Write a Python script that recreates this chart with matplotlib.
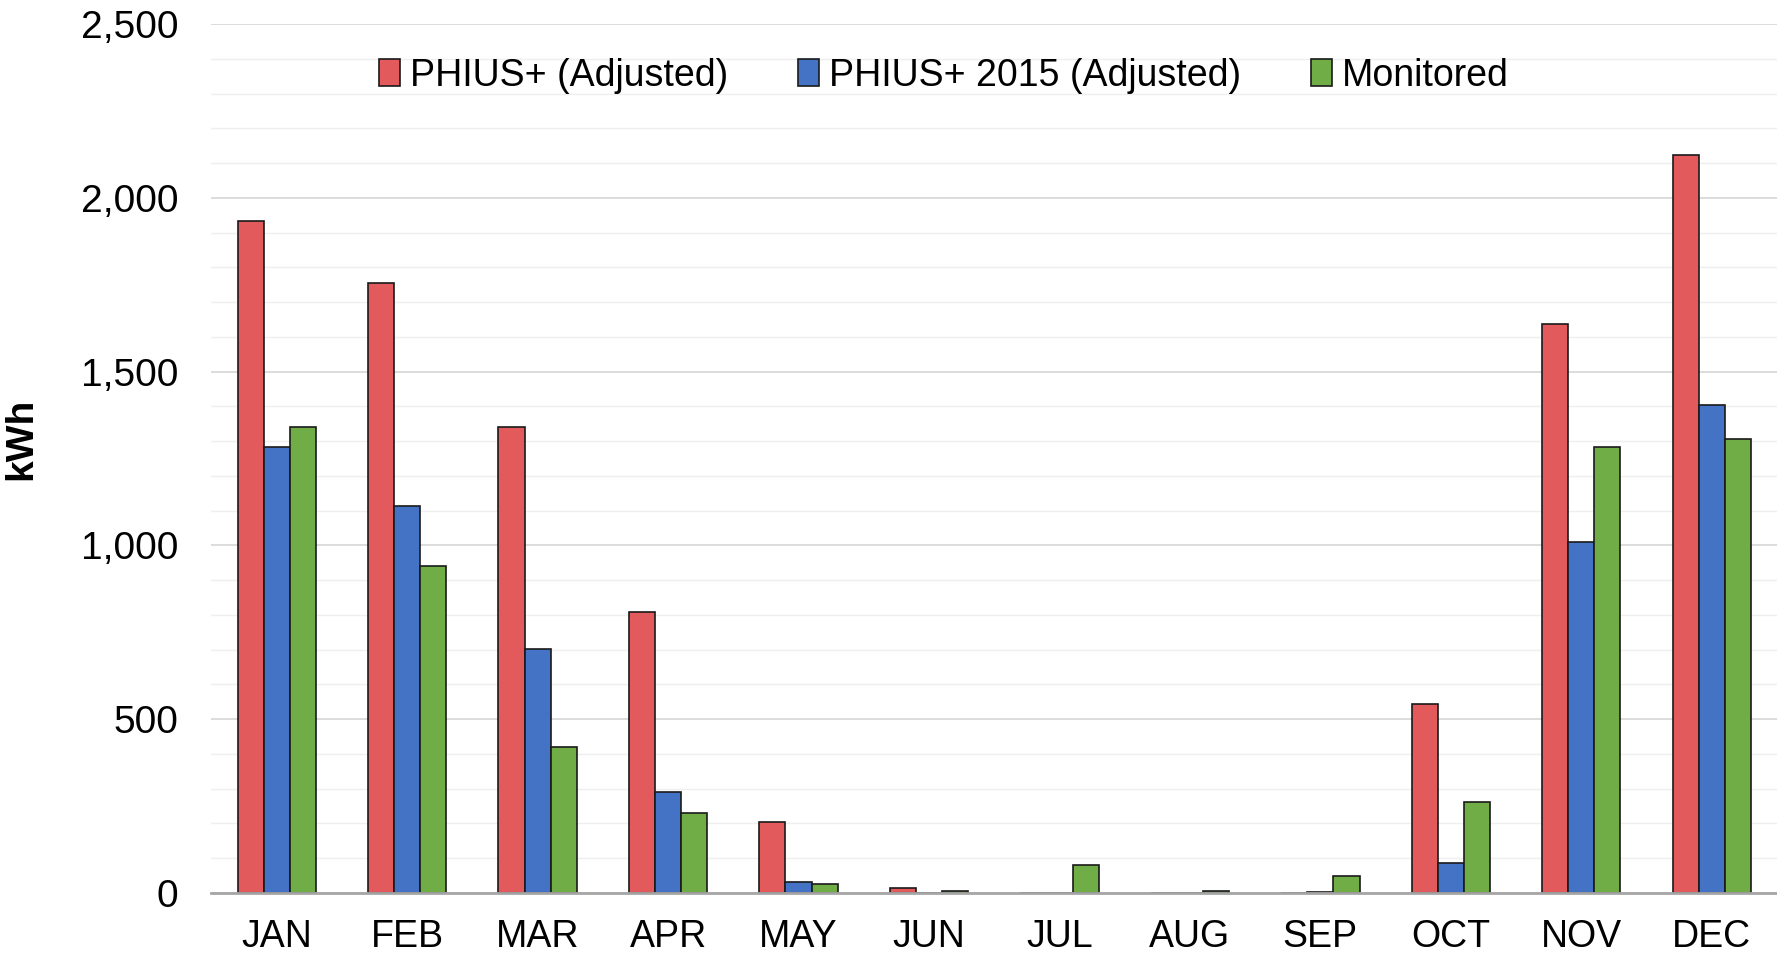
import matplotlib
matplotlib.use("Agg")
import matplotlib.pyplot as plt
import numpy as np
from matplotlib.ticker import FuncFormatter, MultipleLocator

months = ["JAN", "FEB", "MAR", "APR", "MAY", "JUN", "JUL", "AUG", "SEP", "OCT", "NOV", "DEC"]
phius_adj = [1933, 1754, 1340, 808, 205, 13, 0, 0, 0, 544, 1636, 2122]
phius2015_adj = [1284, 1112, 701, 290, 33, 0, 0, 0, 3, 85, 1010, 1405]
monitored = [1340, 942, 420, 231, 26, 6, 81, 6, 49, 261, 1284, 1307]
series_names = ["PHIUS+ (Adjusted)", "PHIUS+ 2015 (Adjusted)", "Monitored"]
colors = ["#E35A5C", "#4472C4", "#70AD47"]

plt.rcParams['font.family'] = ['Liberation Sans', 'DejaVu Sans']

fig = plt.figure(figsize=(17.77, 9.56), dpi=100)
ax = fig.add_axes([0.119, 0.0659, 0.881, 0.909])

x = np.arange(len(months))
w = 0.2
for i, (vals, name, c) in enumerate(zip([phius_adj, phius2015_adj, monitored], series_names, colors)):
    ax.bar(x + (i - 1) * w, vals, width=w, color=c, edgecolor="#1a1a1a", linewidth=1.2, label=name, zorder=3)

ax.set_xlim(-0.5, 11.5)
ax.set_ylim(0, 2500)
ax.yaxis.set_major_locator(MultipleLocator(500))
ax.yaxis.set_minor_locator(MultipleLocator(100))
ax.yaxis.set_major_formatter(FuncFormatter(lambda v, p: f"{int(v):,}"))
ax.grid(axis="y", which="major", color="#d9d9d9", linewidth=1.3, zorder=0)
ax.grid(axis="y", which="minor", color="#efefef", linewidth=1.0, zorder=0)
ax.set_xticks(x)
ax.set_xticklabels(months)
ax.tick_params(axis="x", length=0, pad=19, labelsize=27)
ax.tick_params(axis="y", which="both", length=0, pad=24, labelsize=28)
for s in ["top", "right", "left"]:
    ax.spines[s].set_visible(False)
ax.spines["bottom"].set_color("#a6a6a6")
ax.spines["bottom"].set_linewidth(2)
ax.spines["bottom"].set_zorder(4)

ax.set_ylabel("kWh", fontsize=28, fontweight="bold")
ax.yaxis.set_label_coords(-0.110, 0.523)

leg = ax.legend(loc="upper center", bbox_to_anchor=(0.468, 1.0), ncol=3, frameon=False,
                fontsize=27, handlelength=0.55, handleheight=0.72, handletextpad=0.27,
                columnspacing=1.87)

fig.savefig("out.png", dpi=100)
